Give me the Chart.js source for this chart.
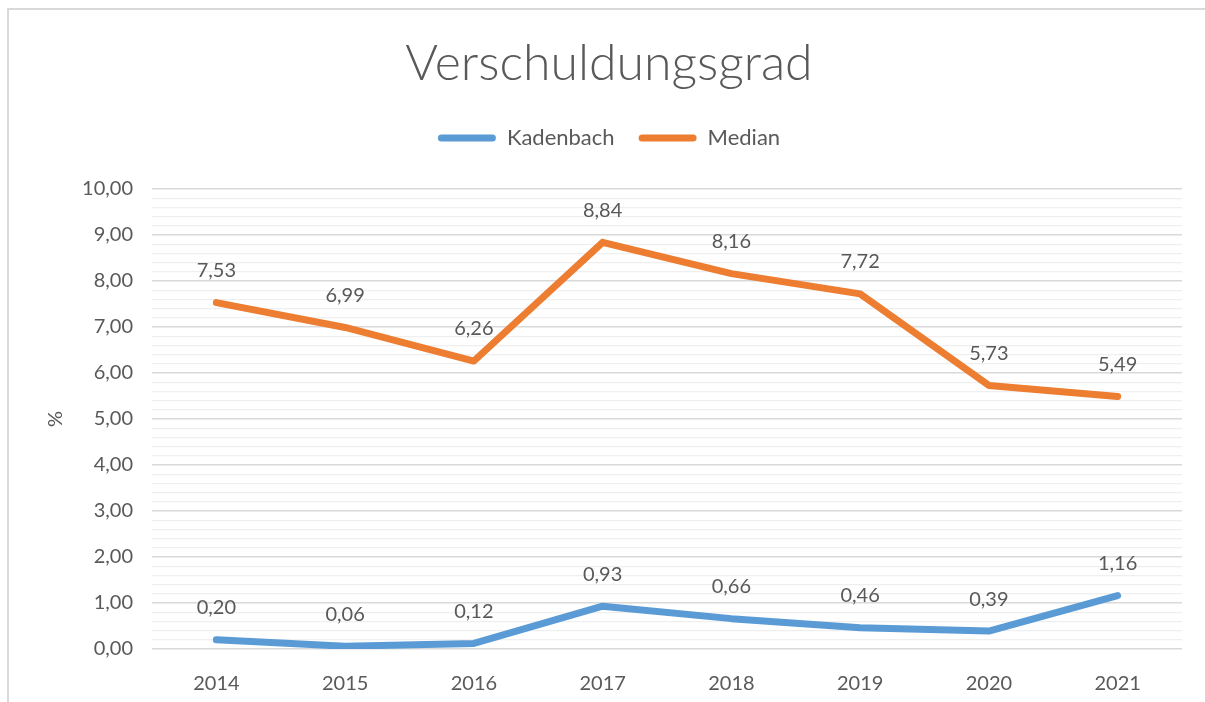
<!DOCTYPE html>
<html>
<head>
<meta charset="utf-8">
<script src="https://cdn.jsdelivr.net/npm/chart.js@4"></script>
<style>
  body { margin: 0; background: #fff; }
  #wrap {
    position: absolute; left: 7px; top: 8px;
    width: 1198px; height: 694px;
    border-top: 2px solid #d9d9d9; border-left: 2px solid #d9d9d9;
  }
</style>
</head>
<body>
<div id="wrap"><canvas id="chart" width="1196" height="692"></canvas></div>
<script>
const years = ["2014", "2015", "2016", "2017", "2018", "2019", "2020", "2021"];
const kadenbach = [0.20, 0.06, 0.12, 0.93, 0.66, 0.46, 0.39, 1.16];
const median = [7.53, 6.99, 6.26, 8.84, 8.16, 7.72, 5.73, 5.49];

const textColor = "#595959";
const fontFamily = "Lato, 'Open Sans', sans-serif";

const fmt = v => v.toFixed(2).replace(".", ",");
const isMajor = v => Math.abs(v - Math.round(v)) < 1e-6;

// draws the value above each point
const valueLabels = {
    id: "valueLabels",
    afterDatasetsDraw(chart) {
        const c = chart.ctx;
        c.save();
        c.font = "20px " + fontFamily;
        c.fillStyle = textColor;
        c.textAlign = "center";
        c.textBaseline = "middle";
        chart.data.datasets.forEach((ds, i) => {
            chart.getDatasetMeta(i).data.forEach((pt, j) => {
                c.fillText(fmt(ds.data[j]), pt.x, pt.y - 32);
            });
        });
        c.restore();
    }
};

// a bit more room under the legend
const legendGap = {
    id: "legendGap",
    afterInit(chart) {
        const fit = chart.legend.fit;
        chart.legend.fit = function () {
            fit.call(this);
            this.height += 30;
        };
    }
};

new Chart(document.getElementById("chart"), {
    type: "line",
    data: {
        labels: years,
        datasets: [
            {
                label: "Kadenbach",
                data: kadenbach,
                borderColor: "#5b9bd5",
                backgroundColor: "#5b9bd5",
                borderWidth: 7,
                pointRadius: 0,
                borderCapStyle: "round",
                borderJoinStyle: "round",
                tension: 0
            },
            {
                label: "Median",
                data: median,
                borderColor: "#ed7d31",
                backgroundColor: "#ed7d31",
                borderWidth: 7,
                pointRadius: 0,
                borderCapStyle: "round",
                borderJoinStyle: "round",
                tension: 0
            }
        ]
    },
    options: {
        responsive: false,
        animation: false,
        layout: { padding: { left: 27, right: 23, top: 0, bottom: 0 } },
        plugins: {
            title: {
                display: true,
                text: "Verschuldungsgrad",
                color: textColor,
                font: { family: fontFamily, size: 50, weight: 300 },
                padding: { top: 24, bottom: 9 }
            },
            legend: {
                position: "top",
                labels: {
                    color: textColor,
                    font: { family: fontFamily, size: 22 },
                    boxWidth: 58,
                    boxHeight: 7,
                    useBorderRadius: true,
                    borderRadius: 3.5,
                    padding: 24,
                    generateLabels: chart =>
                        Chart.defaults.plugins.legend.labels.generateLabels(chart)
                            .map(l => ({ ...l, lineWidth: 0 }))
                }
            },
            tooltip: { enabled: false }
        },
        scales: {
            x: {
                offset: true,
                grid: { display: false },
                border: { display: false },
                ticks: { color: textColor, font: { family: fontFamily, size: 20 }, padding: 15 },
                afterFit: s => { s.height = 53; }
            },
            y: {
                min: 0,
                max: 10,
                border: { display: false },
                title: {
                    display: true,
                    text: "%",
                    color: textColor,
                    font: { family: fontFamily, size: 20 },
                    padding: { top: 8, bottom: 0 }
                },
                grid: {
                    drawTicks: false,
                    color: c => isMajor(c.tick.value) ? "#d9d9d9" : "#efefef",
                    lineWidth: c => isMajor(c.tick.value) ? 1.6 : 1.3
                },
                ticks: {
                    stepSize: 0.2,
                    maxTicksLimit: 100,
                    autoSkip: false,
                    padding: 19,
                    color: textColor,
                    font: { family: fontFamily, size: 20 },
                    callback: v => isMajor(v) ? fmt(Math.round(v)) : ""
                },
                afterFit: s => { s.width = 116; }
            }
        }
    },
    plugins: [valueLabels, legendGap]
});
</script>
</body>
</html>
